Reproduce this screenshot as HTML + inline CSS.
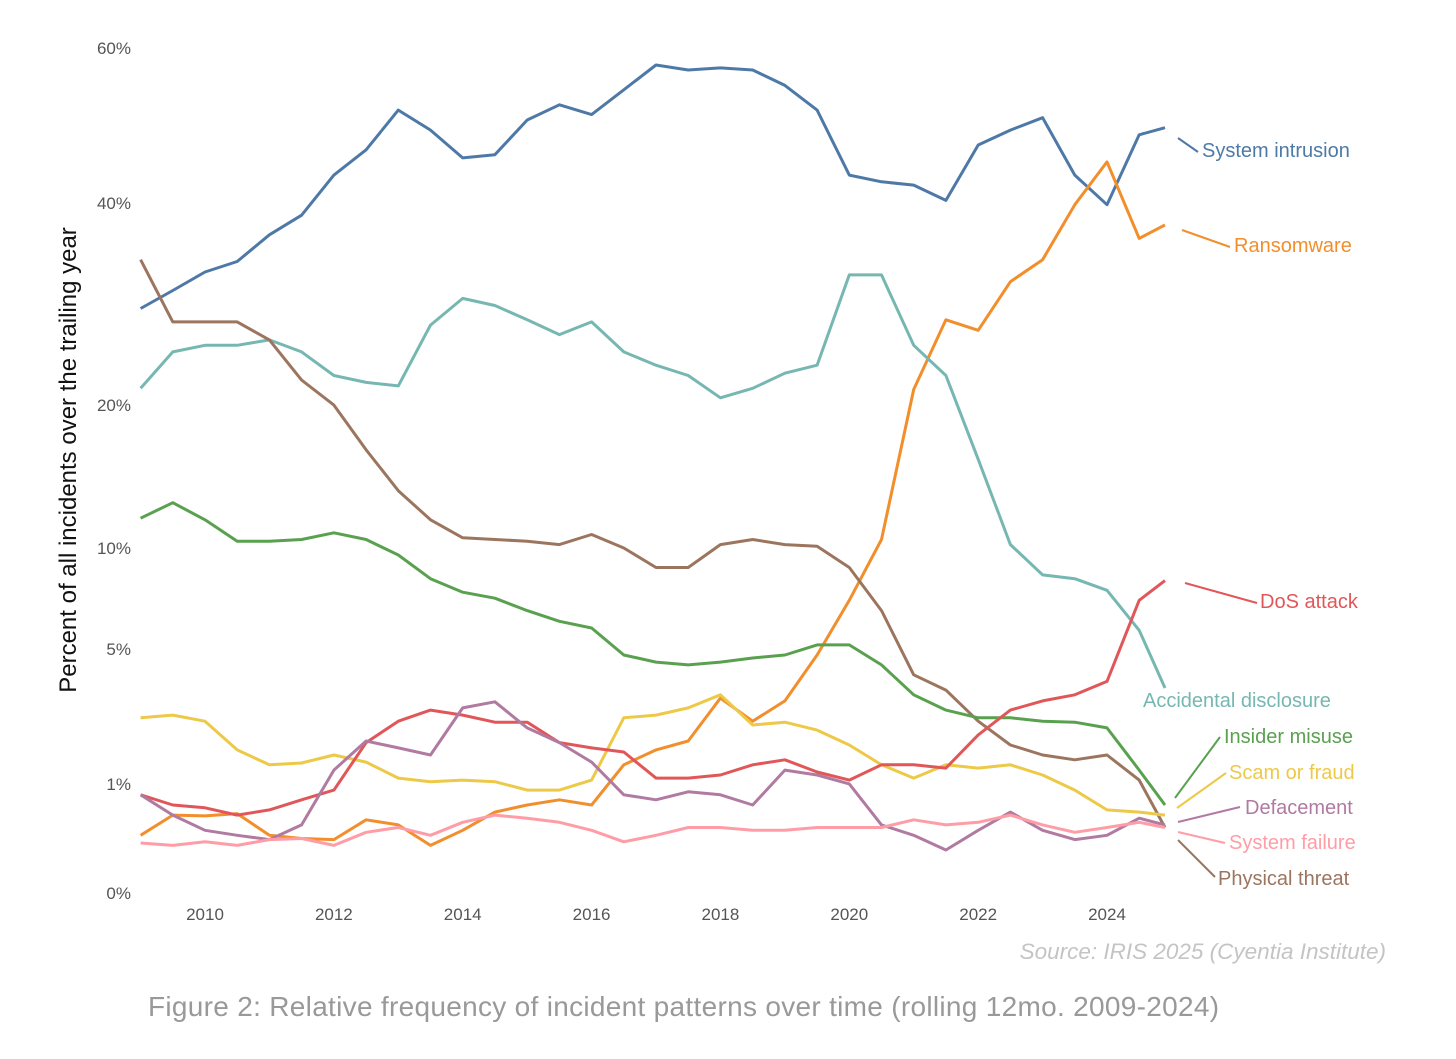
<!DOCTYPE html>
<html><head><meta charset="utf-8">
<style>
body{margin:0;background:#fff;width:1456px;height:1054px;overflow:hidden;font-family:"Liberation Sans",sans-serif}
</style></head>
<body>
<svg id="chart" width="1456" height="1054" xmlns="http://www.w3.org/2000/svg">
<g id="axes"></g>
<g id="series"></g>
<g id="labels"></g>
<text transform="translate(76,460) rotate(-90)" text-anchor="middle" font-size="24" fill="#111">Percent of all incidents over the trailing year</text>
<text x="1386" y="959" text-anchor="end" font-size="22.5" font-style="italic" fill="#c4c4c4">Source: IRIS 2025 (Cyentia Institute)</text>
<text x="148" y="1016" font-size="28" letter-spacing="0.3" fill="#999">Figure 2: Relative frequency of incident patterns over time (rolling 12mo. 2009-2024)</text>
</svg>
<script>
const years=[2009,2009.5,2010,2010.5,2011,2011.5,2012,2012.5,2013,2013.5,2014,2014.5,2015,2015.5,2016,2016.5,2017,2017.5,2018,2018.5,2019,2019.5,2020,2020.5,2021,2021.5,2022,2022.5,2023,2023.5,2024,2024.5,2024.9];
const xTicks=[2010,2012,2014,2016,2018,2020,2022,2024];
const yTicks=[0,1,5,10,20,40,60];
const systemIntrusion=[28.7,30.5,32.4,33.5,36.4,38.6,43.3,46.4,51.5,48.9,45.4,45.8,50.2,52.2,50.9,54.2,57.6,56.9,57.2,56.9,54.8,51.5,43.3,42.5,42.1,40.3,47,48.9,50.5,43.3,39.8,48.3,49.2];
const ransomware=[0.28,0.51,0.5,0.53,0.28,0.25,0.24,0.45,0.39,0.19,0.33,0.55,0.65,0.73,0.65,1.38,1.72,1.94,3.19,2.48,3.1,4.76,7.2,10.5,21.3,27.6,26.6,31.4,33.7,39.8,44.9,36.0,37.5];
const accidentalDisclosure=[21.4,24.6,25.2,25.2,25.7,24.6,22.5,21.9,21.6,27.1,29.7,29.0,27.6,26.2,27.4,24.6,23.4,22.5,20.6,21.4,22.7,23.4,32.1,32.1,25.2,22.5,15.8,10.2,8.5,8.3,7.7,5.8,3.53];
const physicalThreat=[33.7,27.4,27.4,27.4,25.7,22.1,20,16.5,13.6,11.7,10.6,10.5,10.4,10.2,10.8,10,8.9,8.9,10.2,10.5,10.2,10.1,8.9,6.7,4.0,3.46,2.48,1.84,1.6,1.49,1.6,1.07,0.36];
const insiderMisuse=[11.8,12.8,11.7,10.4,10.4,10.5,10.9,10.5,9.6,8.3,7.6,7.3,6.7,6.2,5.9,4.76,4.48,4.37,4.48,4.64,4.76,5.17,5.17,4.37,3.3,2.81,2.58,2.58,2.48,2.45,2.29,1.27,0.65];
const scamOrFraud=[2.58,2.66,2.48,1.72,1.38,1.42,1.6,1.44,1.11,1.04,1.07,1.04,0.89,0.89,1.07,2.58,2.66,2.88,3.3,2.37,2.45,2.23,1.84,1.38,1.11,1.38,1.31,1.38,1.17,0.89,0.58,0.55,0.51];
const dosAttack=[0.81,0.65,0.61,0.51,0.58,0.73,0.89,1.9,2.48,2.81,2.66,2.45,2.45,1.9,1.77,1.67,1.11,1.11,1.17,1.38,1.49,1.23,1.07,1.38,1.38,1.31,2.1,2.81,3.1,3.3,3.76,7.2,8.2];
const defacement=[0.81,0.51,0.33,0.28,0.24,0.39,1.27,1.94,1.77,1.6,2.88,3.07,2.29,1.9,1.44,0.81,0.73,0.86,0.81,0.65,1.27,1.17,1.0,0.39,0.28,0.155,0.33,0.55,0.33,0.24,0.28,0.47,0.39];
const systemFailure=[0.21,0.19,0.22,0.19,0.24,0.25,0.19,0.31,0.36,0.28,0.42,0.51,0.47,0.42,0.33,0.22,0.28,0.36,0.36,0.33,0.33,0.36,0.36,0.36,0.45,0.39,0.42,0.51,0.39,0.31,0.36,0.42,0.36];

const NS="http://www.w3.org/2000/svg";
const xs=yr=>205+(yr-2010)*64.43;
const ys=v=>893-109.1*Math.sqrt(v);
function mk(tag,attrs,parent,text){const e=document.createElementNS(NS,tag);for(const k in attrs)e.setAttribute(k,attrs[k]);if(text!==undefined)e.textContent=text;parent.appendChild(e);return e;}
const axes=document.getElementById('axes');
yTicks.forEach(t=>{const e=mk('text',{x:131,y:ys(t)+6,'text-anchor':'end','font-size':17,fill:'#555'},axes,t+'%');

});
xTicks.forEach(t=>{const e=mk('text',{x:xs(t),y:920,'text-anchor':'middle','font-size':17,fill:'#555'},axes,String(t));

});
const series=[
['system-intrusion',systemIntrusion,'#4e79a7','System intrusion',[1178,138,1198,152],[1202,157]],
['ransomware',ransomware,'#f28e2b','Ransomware',[1182,230,1230,247],[1234,252]],
['accidental-disclosure',accidentalDisclosure,'#76b7b2','Accidental disclosure',null,[1143,707]],
['physical-threat',physicalThreat,'#9c755f','Physical threat',[1178,840,1215,877],[1218,885]],
['insider-misuse',insiderMisuse,'#59a14f','Insider misuse',[1175,798,1220,737],[1224,743]],
['scam-or-fraud',scamOrFraud,'#edc948','Scam or fraud',[1177,808,1226,773],[1229,779]],
['dos-attack',dosAttack,'#e15759','DoS attack',[1185,583,1257,603],[1260,608]],
['defacement',defacement,'#b07aa1','Defacement',[1178,822,1240,807],[1245,814]],
['system-failure',systemFailure,'#ff9da7','System failure',[1178,832,1225,843],[1229,849]]];
const sg=document.getElementById('series'),lg=document.getElementById('labels');
series.forEach(([id,vals,col,label,ln,tp])=>{
  const d=vals.map((v,i)=>(i?'L':'M')+xs(years[i]).toFixed(1)+','+ys(v).toFixed(1)).join('');
  const p=mk('path',{d:d,fill:'none',stroke:col,'stroke-width':3,'stroke-linejoin':'round'},sg);
  
  
  if(ln){const l=mk('line',{x1:ln[0],y1:ln[1],x2:ln[2],y2:ln[3],stroke:col,'stroke-width':2},lg);
  
  }
  const t=mk('text',{x:tp[0],y:tp[1],'font-size':20,fill:col},lg,label);
  
  
});
</script>
</body></html>
